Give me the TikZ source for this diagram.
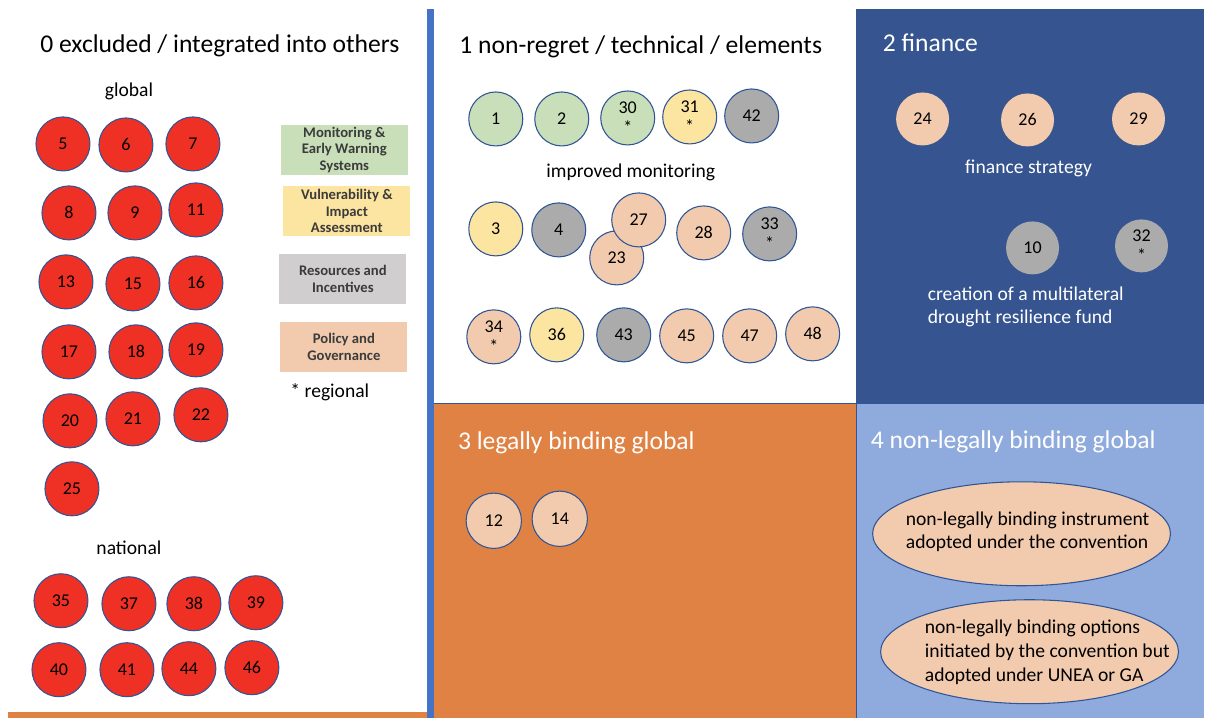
\documentclass[tikz,border=0pt]{standalone}
\usepackage{fontspec}
\setmainfont{Carlito}
\usetikzlibrary{shapes.geometric}
\definecolor{redc}{HTML}{EE3124}
\definecolor{edgec}{HTML}{2F5597}
\definecolor{greenc}{HTML}{C9DFB9}
\definecolor{yellowc}{HTML}{FCE5A0}
\definecolor{grayc}{HTML}{ABABAB}
\definecolor{lgrayc}{HTML}{D0CECE}
\definecolor{peachc}{HTML}{F2CBAE}
\definecolor{darkbluec}{HTML}{365590}
\definecolor{lightbluec}{HTML}{8FAADC}
\definecolor{orangec}{HTML}{DF8244}
\definecolor{linebluec}{HTML}{4472C4}
\definecolor{legtext}{HTML}{3B3B3B}
\begin{document}
\begin{tikzpicture}[x=0.75pt,y=-0.75pt,
  num/.style={circle, draw=edgec, line width=0.8pt, minimum size=40.5pt, inner sep=0pt,
    font=\fontsize{13.5}{15}\selectfont, align=center},
  rc/.style={num, fill=redc},
  gc/.style={num, fill=greenc},
  yc/.style={num, fill=yellowc},
  kc/.style={num, fill=grayc},
  pc/.style={num, fill=peachc},
  fc/.style={circle, draw=none, minimum size=39.75pt, inner sep=0pt,
    font=\fontsize{13.5}{15}\selectfont, align=center},
  legbox/.style={rectangle, minimum width=95.25pt, minimum height=37.5pt, inner sep=0pt,
    align=center, text=legtext, font=\bfseries\fontsize{11}{12.4}\selectfont},
  title/.style={font=\fontsize{19.2}{22}\selectfont, inner sep=0pt},
  txt/.style={font=\fontsize{14.7}{17.25}\selectfont, inner sep=0pt},
  ell/.style={ellipse, draw=edgec, line width=0.8pt, fill=peachc, minimum width=223.5pt, minimum height=78pt, inner sep=0pt}
]
% background and panels
\fill[white] (0,0) rectangle (1205,718);
\fill[darkbluec] (856,9) rectangle (1205,404);
\fill[orangec] (434,404) rectangle (857,718);
\fill[lightbluec] (857,404) rectangle (1205,718);
\draw[edgec, line width=0.8pt] (434,404) -- (1205,404);
\draw[edgec, line width=0.8pt] (856.5,404) -- (856.5,718);
\fill[linebluec] (427,9) rectangle (434,718);
\fill[orangec] (8,712) rectangle (427,718);

% panel 0
\node[title] (t0) at (220,46) {0 excluded / integrated into others};
\node[txt] (glob) at (129,91) {global};
\node[rc] (c5) at (63,144) {5};
\node[rc] (c6) at (126,145) {6};
\node[rc] (c7) at (193,144) {7};
\node[rc] (c8) at (69,213) {8};
\node[rc] (c9) at (135,213) {9};
\node[rc] (c11) at (196,210) {11};
\node[rc] (c13) at (66,282) {13};
\node[rc] (c15) at (133,284) {15};
\node[rc] (c16) at (196,283) {16};
\node[rc] (c17) at (69,352) {17};
\node[rc] (c18) at (136,352) {18};
\node[rc] (c19) at (196,350) {19};
\node[rc] (c20) at (70,421) {20};
\node[rc] (c21) at (133,419) {21};
\node[rc] (c22) at (201,415) {22};
\node[rc] (c25) at (72,489) {25};
\node[txt] (nat) at (129,548) {national};
\node[rc] (c35) at (61,601) {35};
\node[rc] (c37) at (129,604) {37};
\node[rc] (c38) at (194,604) {38};
\node[rc] (c39) at (256,603) {39};
\node[rc] (c40) at (59,670) {40};
\node[rc] (c41) at (127,670) {41};
\node[rc] (c44) at (189,669) {44};
\node[rc] (c46) at (252,668) {46};

% legend
\node[legbox, fill=greenc] (lm) at (344.5,150) {Monitoring \&\\Early Warning\\Systems};
\node[legbox, fill=yellowc] (lv) at (347,211) {Vulnerability \&\\Impact\\Assessment};
\node[legbox, fill=lgrayc] (lr) at (343,279) {Resources and\\Incentives};
\node[legbox, fill=peachc] (lp) at (344,347) {Policy and\\Governance};
\node[txt] (reg) at (330,392) {* regional};

% panel 1
\node[title] (t1) at (641,47) {1 non-regret / technical / elements};
\node[gc] (c1) at (496,119) {1};
\node[gc] (c2) at (562,119) {2};
\node[gc] (c30) at (628,118) {30\\*};
\node[yc] (c31) at (690,117) {31\\*};
\node[kc] (c42) at (752,116) {42};
\node[txt] (imp) at (631,172) {improved monitoring};
\node[yc] (c3) at (496,229) {3};
\node[kc] (c4) at (559,230) {4};
\node[pc] (c23) at (617,258) {23};
\node[pc] (c27) at (639,220) {27};
\node[pc] (c28) at (704,233) {28};
\node[kc] (c33) at (770,234) {33\\*};
\node[pc] (c34) at (494,337) {34\\*};
\node[yc] (c36) at (557,335) {36};
\node[kc] (c43) at (624,335) {43};
\node[pc] (c45) at (687,336) {45};
\node[pc] (c47) at (750,336) {47};
\node[pc] (c48) at (813,334) {48};

% panel 2
\node[title, text=white, anchor=west] (t2) at (883,43) {2 finance};
\node[fc, fill=peachc] (c24) at (923,119) {24};
\node[fc, fill=peachc] (c26) at (1028,120) {26};
\node[fc, fill=peachc] (c29) at (1139,119) {29};
\node[txt, text=white] (fin) at (1029,168) {finance strategy};
\node[fc, fill=grayc] (c10) at (1033,248) {10};
\node[fc, fill=grayc] (c32) at (1142,246) {32\\*};
\node[txt, text=white, anchor=west, align=left] (fund) at (928,307.5) {creation of a multilateral\\drought resilience fund};

% panel 3
\node[title, text=white, anchor=west] (t3) at (458,443) {3 legally binding global};
\node[pc, minimum size=41.5pt] (c12) at (494,521) {12};
\node[pc, minimum size=41.5pt] (c14) at (560,519) {14};

% panel 4
\node[title, text=white, anchor=west] (t4) at (871,442) {4 non-legally binding global};
\node[ell] (e1) at (1022,534) {};
\node[txt, anchor=west, align=left, font=\fontsize{14.7}{18}\selectfont] (e1t) at (906,532) {non-legally binding instrument\\adopted under the convention};
\node[ell] (e2) at (1030,652) {};
\node[txt, anchor=west, align=left, font=\fontsize{14.7}{18}\selectfont] (e2t) at (925,653) {non-legally binding options\\initiated by the convention but\\adopted under UNEA or GA};
\end{tikzpicture}
\end{document}
